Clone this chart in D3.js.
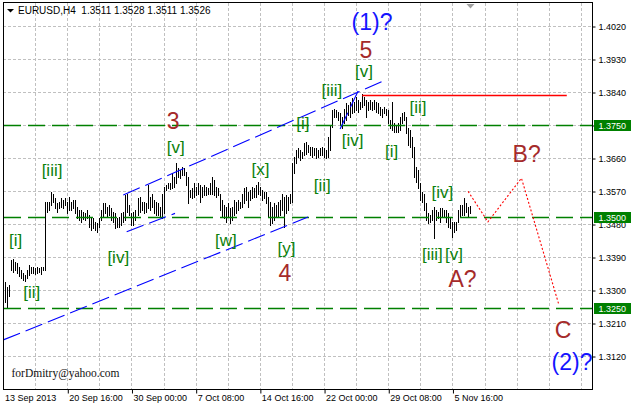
<!DOCTYPE html>
<html><head><meta charset="utf-8">
<script src="https://cdn.jsdelivr.net/npm/d3@7"></script>
<style>
body{margin:0;background:#fff}
svg{display:block}
text{font-family:"Liberation Sans",Arial,sans-serif}
</style>
</head><body>
<svg id="c" width="631" height="406"></svg>
<script>
// ---- DATA ----
const symbol = "EURUSD,H4";
const lastOHLC = [1.3511, 1.3528, 1.3511, 1.3526];
const highs = [
1.3327,1.3322,1.3308,1.3313,1.3382,1.3385,1.3376,1.3374,1.3363,1.3355,
1.3346,1.3341,1.3355,1.3368,1.3363,1.3363,1.3360,1.3363,1.3360,1.3363,
1.3363,1.3540,1.3541,1.3541,1.3568,1.3563,1.3550,1.3536,1.3541,1.3550,
1.3545,1.3550,1.3541,1.3555,1.3541,1.3545,1.3545,1.3527,1.3518,1.3518,
1.3514,1.3509,1.3518,1.3505,1.3500,1.3496,1.3486,1.3482,1.3496,1.3518,
1.3536,1.3536,1.3527,1.3532,1.3523,1.3514,1.3509,1.3496,1.3500,1.3509,
1.3514,1.3559,1.3563,1.3532,1.3509,1.3514,1.3518,1.3550,1.3555,1.3541,
1.3541,1.3536,1.3586,1.3555,1.3563,1.3545,1.3541,1.3536,1.3527,1.3563,
1.3582,1.3586,1.3591,1.3591,1.3618,1.3609,1.3645,1.3632,1.3627,1.3636,
1.3632,1.3623,1.3609,1.3573,1.3577,1.3591,1.3582,1.3591,1.3586,1.3582,
1.3586,1.3582,1.3577,1.3591,1.3609,1.3600,1.3582,1.3577,1.3563,1.3545,
1.3532,1.3527,1.3536,1.3523,1.3527,1.3545,1.3541,1.3545,1.3541,1.3563,
1.3577,1.3582,1.3568,1.3573,1.3582,1.3577,1.3586,1.3595,1.3582,1.3573,
1.3568,1.3568,1.3554,1.3541,1.3527,1.3536,1.3532,1.3541,1.3545,1.3563,
1.3554,1.3559,1.3554,1.3563,1.3645,1.3663,1.3682,1.3686,1.3682,1.3677,
1.3700,1.3704,1.3695,1.3691,1.3691,1.3686,1.3686,1.3682,1.3686,1.3691,
1.3686,1.3682,1.3718,1.3750,1.3791,1.3795,1.3791,1.3786,1.3782,1.3773,
1.3795,1.3809,1.3805,1.3814,1.3823,1.3814,1.3827,1.3818,1.3814,1.3834,
1.3827,1.3818,1.3814,1.3818,1.3814,1.3818,1.3814,1.3809,1.3800,1.3795,
1.3800,1.3795,1.3791,1.3764,1.3814,1.3755,1.3750,1.3755,1.3773,1.3782,
1.3786,1.3773,1.3741,1.3736,1.3718,1.3691,1.3636,1.3627,1.3591,1.3568,
1.3563,1.3536,1.3509,1.3505,1.3518,1.3527,1.3518,1.3514,1.3523,1.3523,
1.3518,1.3518,1.3509,1.3496,1.3486,1.3486,1.3486,1.3518,1.3532,1.3532,
1.3550,1.3536,1.3527,1.3528];
const lows = [
1.3286,1.3267,1.3254,1.3284,1.3355,1.3349,1.3355,1.3346,1.3338,1.3333,
1.3327,1.3325,1.3333,1.3341,1.3346,1.3346,1.3344,1.3346,1.3349,1.3344,
1.3355,1.3355,1.3514,1.3518,1.3532,1.3541,1.3523,1.3514,1.3523,1.3527,
1.3523,1.3532,1.3509,1.3518,1.3518,1.3523,1.3509,1.3496,1.3491,1.3486,
1.3493,1.3491,1.3496,1.3473,1.3464,1.3468,1.3464,1.3459,1.3473,1.3491,
1.3500,1.3509,1.3500,1.3505,1.3491,1.3486,1.3468,1.3473,1.3473,1.3477,
1.3486,1.3491,1.3514,1.3505,1.3477,1.3477,1.3491,1.3505,1.3514,1.3518,
1.3509,1.3514,1.3523,1.3518,1.3527,1.3509,1.3505,1.3505,1.3500,1.3496,
1.3509,1.3573,1.3577,1.3575,1.3577,1.3582,1.3591,1.3609,1.3605,1.3614,
1.3614,1.3586,1.3536,1.3555,1.3550,1.3555,1.3559,1.3563,1.3541,1.3555,
1.3559,1.3559,1.3563,1.3563,1.3563,1.3559,1.3555,1.3559,1.3518,1.3500,
1.3496,1.3486,1.3500,1.3482,1.3491,1.3505,1.3509,1.3518,1.3523,1.3527,
1.3536,1.3545,1.3527,1.3545,1.3550,1.3554,1.3554,1.3563,1.3559,1.3545,
1.3550,1.3536,1.3500,1.3477,1.3482,1.3491,1.3500,1.3500,1.3505,1.3518,
1.3472,1.3509,1.3518,1.3536,1.3541,1.3618,1.3645,1.3663,1.3654,1.3659,
1.3668,1.3672,1.3677,1.3668,1.3663,1.3668,1.3659,1.3663,1.3668,1.3668,
1.3663,1.3659,1.3663,1.3682,1.3745,1.3773,1.3773,1.3764,1.3750,1.3741,
1.3755,1.3764,1.3777,1.3773,1.3782,1.3786,1.3791,1.3786,1.3795,1.3800,
1.3805,1.3773,1.3791,1.3795,1.3791,1.3795,1.3786,1.3782,1.3777,1.3773,
1.3782,1.3777,1.3755,1.3741,1.3736,1.3732,1.3732,1.3732,1.3736,1.3755,
1.3764,1.3727,1.3695,1.3691,1.3663,1.3609,1.3595,1.3577,1.3545,1.3541,
1.3518,1.3491,1.3482,1.3486,1.3491,1.3441,1.3491,1.3496,1.3486,1.3500,
1.3500,1.3486,1.3473,1.3468,1.3445,1.3459,1.3464,1.3486,1.3500,1.3505,
1.3505,1.3514,1.3500,1.3511];

const yTickValues = [1.4020,1.3930,1.3840,1.3750,1.3660,1.3570,1.3480,1.3390,1.3300,1.3210,1.3120];
const xTickIndex  = [0,32,64,96,128,160,192,224];
const xTickLabels = ["13 Sep 2013","20 Sep 16:00","30 Sep 00:00","7 Oct 08:00","14 Oct 16:00","22 Oct 00:00","29 Oct 08:00","5 Nov 16:00"];
const gridEvery = 16;

const levelPrices = [1.3750, 1.3500, 1.3250];         // green horizontal levels
const resistance = {from:179, to:281, price:1.3832};  // red line
const trendFrom = [[0.1,1.3164],[59.9,1.3559],[61.6,1.3459],[168,1.3739]];
const trendTo   = [[152,1.3499],[188.7,1.3868],[85.7,1.3509],[177.9,1.3853]];
const projIdx   = [231.8, 241.7, 258.4, 277.1];
const projPrice = [1.3569, 1.3486, 1.3605, 1.3259];

const bigLabels  = ["(1)?","5","3","4","A?","B?","C","(2)?"];
const bigIdx     = [183.9,180.9,84.8,140.5,229,261,279.1,283.6];
const bigPrice   = [1.4010,1.3932,1.3738,1.3325,1.3309,1.3650,1.3168,1.3081];
const bigBlue    = [true,false,false,false,false,false,false,true];

const minorLabels = ["[i]","[ii]","[iii]","[iv]","[v]","[w]","[x]","[y]","[i]","[ii]","[iii]","[iv]","[v]","[i]","[ii]","[iii]","[iv]","[v]"];
const minorIdx    = [6.3,14.3,24.4,57.4,86.1,111.1,128.3,141.3,149.4,159.1,163.9,174.2,179.9,193.7,206.8,214.0,219.0,224.8];
const minorPrice  = [1.3419,1.3278,1.3612,1.3373,1.3674,1.3419,1.3614,1.3398,1.3739,1.3569,1.3828,1.3693,1.3881,1.3663,1.3783,1.3383,1.3551,1.3383];

// ---- DRAW ----
const L = 3, R = 592, T = 3, B = 389;
const svg = d3.select("#c");
const x = d3.scaleLinear().domain([0, 100]).range([3.1, 3.1 + 200.6]);
const y = d3.scaleLinear().domain([1.3120, 1.4020]).range([356, 26]);
const cx = i => Math.round(x(i)) + 0.5;
const cy = p => Math.round(y(p)) + 0.5;

svg.append("defs").append("clipPath").attr("id","clip")
  .append("rect").attr("x",L).attr("y",T).attr("width",R-L).attr("height",B-T);
const plot = svg.append("g").attr("clip-path","url(#clip)");

// grid
const gx = d3.range(gridEvery, 300, gridEvery).filter(i => x(i) < R);
const gGrid = plot.append("g").attr("class","grid");
gGrid.selectAll("line.vg").data(gx).join("line").attr("class","vg")
  .attr("x1", d=>cx(d)).attr("x2", d=>cx(d)).attr("y1", T).attr("y2", B)
  .style("stroke","#c0c0c0").style("stroke-dasharray","3,2");
gGrid.selectAll("line.hg").data(yTickValues).join("line").attr("class","hg")
  .attr("x1", L).attr("x2", R).attr("y1", d=>cy(d)).attr("y2", d=>cy(d))
  .style("stroke","#c0c0c0").style("stroke-dasharray","3,2");

// bars
const gBars = plot.append("g").attr("class","bars");
gBars.selectAll("line.bar").data(highs.map((h,i)=>({i,h,l:lows[i]}))).join("line").attr("class","bar")
  .attr("x1", d => cx(d.i)).attr("x2", d => cx(d.i))
  .attr("y1", d => Math.round(y(d.h))).attr("y2", d => Math.round(y(d.l))+1)
  .style("stroke","#000").style("stroke-width",1);

// green levels
const gLev = plot.append("g").attr("class","levels");
gLev.selectAll("line.lv").data(levelPrices).join("line").attr("class","lv")
  .attr("x1", L+1).attr("x2", R).attr("y1", d=>cy(d)).attr("y2", d=>cy(d))
  .style("stroke","#008000").style("stroke-width",1.3).style("stroke-dasharray","17,7");

// red resistance
plot.append("line").attr("class","res")
  .attr("x1", x(resistance.from)).attr("x2", x(resistance.to))
  .attr("y1", cy(resistance.price)).attr("y2", cy(resistance.price))
  .style("stroke","#ff0000").style("stroke-width",1.3);

// blue trend lines
const gTr = plot.append("g").attr("class","trends");
gTr.selectAll("line.tl").data(d3.range(trendFrom.length)).join("line").attr("class","tl")
  .attr("x1", k => x(trendFrom[k][0])).attr("y1", k => y(trendFrom[k][1]))
  .attr("x2", k => x(trendTo[k][0])).attr("y2", k => y(trendTo[k][1]))
  .style("stroke","#0000ff").style("stroke-width",1.1).style("stroke-dasharray","18,6");

// projection
const proj = projIdx.map((v,k)=>[x(v), y(projPrice[k])]);
plot.append("path").attr("d", d3.line()(proj)).style("fill","none")
  .style("stroke","#ff0000").style("stroke-width",1.1).style("stroke-dasharray","2,2");

// wave labels
plot.selectAll("text.big").data(bigLabels).join("text").attr("class","big")
  .attr("x", (d,k)=>x(bigIdx[k])).attr("y",(d,k)=>y(bigPrice[k]))
  .attr("text-anchor","middle").attr("font-size",23)
  .style("fill",(d,k)=>bigBlue[k] ? "#1414ff" : "#a52a2a").text(d=>d);
plot.selectAll("text.minor").data(minorLabels).join("text").attr("class","minor")
  .attr("x", (d,k)=>x(minorIdx[k])).attr("y",(d,k)=>y(minorPrice[k]))
  .attr("text-anchor","middle").attr("font-size",17)
  .style("fill","#0b800b").text(d=>d);

// watermark
svg.append("text").attr("x",11.5).attr("y",377)
  .style("font-family",'"Liberation Serif","Times New Roman",serif')
  .attr("font-size",11.5).style("fill","#111").text("forDmitry@yahoo.com");

// chart shift marker
const lastX = x(highs.length - 1);
svg.append("path").attr("d",`M${lastX-4},4 L${lastX+4},4 L${lastX},8.5 Z`).style("fill","#a0a0a0");

// frame
svg.append("rect").attr("x",L+0.5).attr("y",T-0.5).attr("width",R-L).attr("height",B-T+1)
  .style("fill","none").style("stroke","#000");

// y axis
const yAxis = svg.append("g").attr("transform",`translate(${R+0.5},0.5)`)
  .call(d3.axisRight(y).tickValues(yTickValues).tickSize(3).tickPadding(3).tickFormat(d3.format(".4f")));
yAxis.select(".domain").remove();
yAxis.selectAll("text").attr("font-size",9).style("font-family",'"Liberation Sans",Arial,sans-serif').style("fill","#000");
yAxis.selectAll("line").style("stroke","#000");

// x axis
const xAxis = svg.append("g").attr("transform",`translate(0.5,${B+0.5})`)
  .call(d3.axisBottom(x).tickValues(xTickIndex).tickSize(4).tickFormat((d,k)=>xTickLabels[k]));
xAxis.select(".domain").remove();
xAxis.selectAll("text").attr("text-anchor","start").attr("x",1).attr("y",5).attr("font-size",9)
  .style("font-family",'"Liberation Sans",Arial,sans-serif').style("fill","#000");
xAxis.selectAll("line").style("stroke","#000");
xAxis.selectAll(".tick").filter(d=>d===0).select("line").remove();

// level price boxes
const boxes = svg.selectAll("g.box").data(levelPrices).join("g").attr("class","box");
boxes.append("rect").attr("x",R+2).attr("y",d=>Math.round(y(d))-5).attr("width",37).attr("height",11).style("fill","#008000");
boxes.append("text").attr("x",R+6.5).attr("y",d=>Math.round(y(d))+3.5).attr("font-size",9)
  .style("fill","#fff").text(d=>d3.format(".4f")(d));

// header
svg.append("path").attr("d","M7,9 L14,9 L10.5,12.5 Z").style("fill","#000");
svg.append("text").attr("x",18).attr("y",14).attr("font-size",10).style("fill","#000")
  .attr("xml:space","preserve")
  .text(symbol + "  " + lastOHLC.map(d3.format(".4f")).join(" "));
</script>
</body></html>
